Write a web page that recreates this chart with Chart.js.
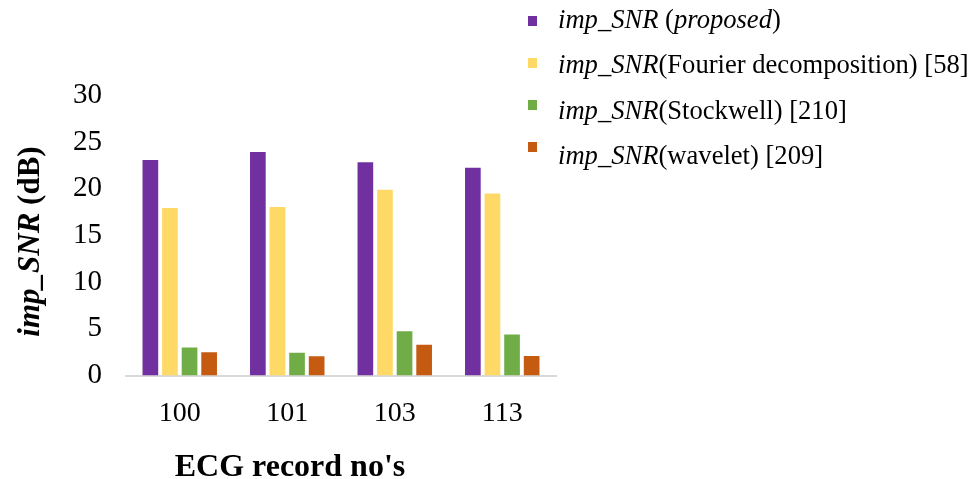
<!DOCTYPE html>
<html><head><meta charset="utf-8">
<script src="https://cdn.jsdelivr.net/npm/chart.js@4.4.0/dist/chart.umd.min.js"></script>
<style>html,body{margin:0;padding:0;background:#fff;overflow:hidden}canvas{display:block}</style>
</head><body>
<canvas id="c" width="971" height="479"></canvas>
<script>
const categories = ['100', '101', '103', '113'];
const proposed  = [23.1, 23.95, 22.85, 22.25];
const fourier   = [17.95, 18.05, 19.9, 19.5];
const stockwell = [3.0, 2.45, 4.75, 4.4];
const wavelet   = [2.5, 2.05, 3.3, 2.1];
const yMin = 0, yMax = 30, yStep = 5;
const xTitle = "ECG record no's";
const yTitleParts = [['imp_SNR', 'bold italic'], [' (dB)', 'bold']];
const legendParts = [
  [['imp_SNR', 'italic'], [' (', ''], ['proposed', 'italic'], [')', '']],
  [['imp_SNR', 'italic'], ['(Fourier decomposition) [58]', '']],
  [['imp_SNR', 'italic'], ['(Stockwell) [210]', '']],
  [['imp_SNR', 'italic'], ['(wavelet) [209]', '']]
];
const colors = ['#7030A0', '#FFD966', '#70AD47', '#C55A11'];
const FONT = "'Liberation Serif', 'Times New Roman', serif";

const series = [proposed, fourier, stockwell, wavelet];

const titlesAndLegend = {
  id: 'titlesAndLegend',
  afterDraw(chart) {
    const ctx = chart.ctx;
    const ca = chart.chartArea;
    ctx.save();
    ctx.fillStyle = '#000';
    ctx.textBaseline = 'alphabetic';
    // x title
    ctx.font = 'bold 32px ' + FONT;
    ctx.textAlign = 'center';
    ctx.fillText(xTitle, ca.left + 164, 476);
    // y title (mixed styles, rotated)
    ctx.save();
    ctx.translate(39, (ca.top + ca.bottom) / 2 + 6);
    ctx.rotate(-Math.PI / 2);
    let total = 0;
    yTitleParts.forEach(p => { ctx.font = p[1] + ' 31px ' + FONT; total += ctx.measureText(p[0]).width; });
    let x = -total / 2;
    ctx.textAlign = 'left';
    yTitleParts.forEach(p => { ctx.font = p[1] + ' 31px ' + FONT; ctx.fillText(p[0], x, 0); x += ctx.measureText(p[0]).width; });
    ctx.restore();
    // legend
    ctx.textAlign = 'left';
    legendParts.forEach((parts, i) => {
      const base = 28 + i * 45.3;
      const my = 21 + i * 42;
      ctx.fillStyle = chart.data.datasets[i].backgroundColor;
      ctx.fillRect(528, my - 5, 9, 10);
      ctx.fillStyle = '#000';
      let lx = 558;
      parts.forEach(p => {
        ctx.font = (p[1] ? p[1] + ' ' : '') + '26.6px ' + FONT;
        ctx.fillText(p[0], lx, base);
        lx += ctx.measureText(p[0]).width;
      });
    });
    ctx.restore();
  }
};

new Chart(document.getElementById('c'), {
  type: 'bar',
  data: {
    labels: categories,
    datasets: series.map((d, i) => ({
      label: legendParts[i].map(p => p[0]).join(''),
      data: d,
      backgroundColor: colors[i],
      borderWidth: 0,
      categoryPercentage: 0.729,
      barPercentage: 0.8
    }))
  },
  options: {
    responsive: false,
    animation: false,
    devicePixelRatio: 1,
    layout: { padding: { top: 95.5, left: 0, right: 415, bottom: 0 } },
    plugins: { legend: { display: false }, tooltip: { enabled: false } },
    scales: {
      x: {
        grid: { display: false, drawTicks: false },
        border: { display: true, color: '#D9D9D9', width: 2 },
        ticks: { color: '#000', font: { family: FONT, size: 28 }, padding: 21, maxRotation: 0 },
        afterFit(s) { s.height = 103.5; }
      },
      y: {
        min: yMin, max: yMax,
        grid: { display: false, drawTicks: false },
        border: { display: false },
        ticks: { stepSize: yStep, color: '#000', font: { family: FONT, size: 29 }, padding: 24 },
        afterFit(s) { s.width = 126; }
      }
    }
  },
  plugins: [titlesAndLegend]
});
</script>
</body></html>
